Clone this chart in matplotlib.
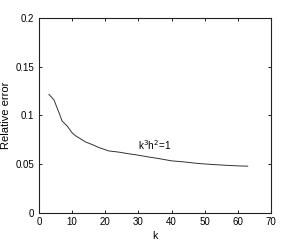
import numpy as np
import matplotlib
matplotlib.use("Agg")
import matplotlib.pyplot as plt

# 读图得到的数据
k_vals = [3, 4.5, 6, 7, 8.5, 10, 11, 12, 14, 16, 18, 21, 24, 27, 30,
          33, 36, 40, 44, 48, 52, 56, 60, 63]
rel_err = [0.1215, 0.116, 0.103, 0.094, 0.089, 0.082, 0.079, 0.077, 0.0727,
           0.070, 0.067, 0.0634, 0.0622, 0.0605, 0.059, 0.0572, 0.0556,
           0.0532, 0.052, 0.0505, 0.0495, 0.0487, 0.048, 0.0477]
x_ticks = [0, 10, 20, 30, 40, 50, 60, 70]
y_ticks = [0, 0.05, 0.1, 0.15, 0.2]
y_labels = ["0", "0.05", "0.1", "0.15", "0.2"]

plt.rcParams["font.family"] = ["Liberation Sans", "DejaVu Sans"]
plt.rcParams["font.size"] = 7

fig = plt.figure(figsize=(3.0, 2.41), dpi=100, facecolor="white")
ax = fig.add_axes([0.13, 0.118, 0.773, 0.807])

ax.plot(k_vals, rel_err, "-", color="#333333", lw=0.7)
ax.text(30, 0.064, r"k$^3$h$^2$=1", fontsize=7.2)

ax.set_xlim(0, 70)
ax.set_ylim(0, 0.2)
ax.set_xticks(x_ticks)
ax.set_yticks(y_ticks)
ax.set_yticklabels(y_labels)
ax.tick_params(direction="in", length=2.5, width=0.6, top=True, right=True,
               labelsize=7)
ax.tick_params(axis="x", pad=3.5)
ax.tick_params(axis="y", pad=3.5)
for s in ax.spines.values():
    s.set_linewidth(0.8)
    s.set_color("#222222")
ax.set_xlabel("k", fontsize=7.5, labelpad=2.5)
ax.set_ylabel("Relative error", fontsize=8, labelpad=3)

plt.savefig("out.png", dpi=100, facecolor="white")
plt.close()
